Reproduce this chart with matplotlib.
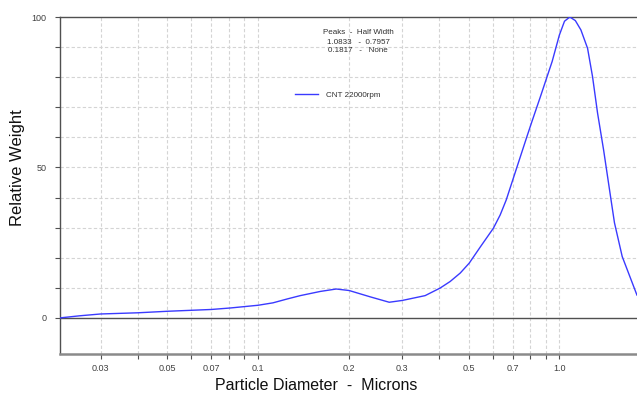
import matplotlib
matplotlib.use("Agg")
import matplotlib.pyplot as plt
from matplotlib.ticker import FixedLocator, NullFormatter, FixedFormatter

plt.rcParams['font.family'] = ['Liberation Sans', 'DejaVu Sans']

diameter = [0.022, 0.0256, 0.030, 0.040, 0.050, 0.070, 0.081, 0.100, 0.112, 0.125,
            0.138, 0.161, 0.1817, 0.2005, 0.2355, 0.2724, 0.3011, 0.3584, 0.4017,
            0.434, 0.4687, 0.5021, 0.5475, 0.6039, 0.636, 0.6662, 0.780, 0.8104,
            0.8656, 0.9105, 0.9462, 1.0, 1.04, 1.0833, 1.13, 1.1789, 1.2405, 1.2884,
            1.3388, 1.4023, 1.4787, 1.5237, 1.6164, 1.809]
weight = [0.0, 0.7, 1.3, 1.7, 2.2, 2.8, 3.3, 4.2, 5.0, 6.3,
          7.4, 8.8, 9.6, 9.1, 7.0, 5.2, 5.8, 7.4, 9.9,
          12.1, 14.9, 18.2, 23.7, 29.8, 34.2, 39.2, 60.2, 65.2,
          73.6, 80.2, 85.2, 94.0, 98.6, 100.0, 98.8, 95.7, 89.6, 80.2,
          68.1, 55.8, 40.3, 31.6, 20.4, 7.6]

x_major = [0.03, 0.05, 0.07, 0.1, 0.2, 0.3, 0.5, 0.7, 1.0]
x_major_labels = ['0.03', '0.05', '0.07', '0.1', '0.2', '0.3', '0.5', '0.7', '1.0']
x_grid = [0.03, 0.04, 0.05, 0.06, 0.07, 0.08, 0.09, 0.1, 0.2, 0.3, 0.4, 0.5,
          0.6, 0.7, 0.8, 0.9, 1.0]
y_major = [0, 50, 100]
y_minor = [10, 20, 30, 40, 60, 70, 80, 90]
y_grid = [10, 20, 30, 40, 50, 60, 70, 80, 90]

series_label = 'CNT 22000rpm'
peaks_text = ["Peaks  -  Half Width", "1.0833   -  0.7957", "0.1817   -   None"]

fig = plt.figure(figsize=(6.37, 3.94), dpi=100)
ax = fig.add_axes([60/637, 1-354/394, 577/637, (354-17)/394])
ax.set_xscale('log')
ax.set_xlim(0.022, 1.81)
ax.set_ylim(-12, 100)

gridc = '#d4d4d4'
for gx in x_grid:
    ax.axvline(gx, color=gridc, lw=0.8, ls=(0, (3, 2)), zorder=0)
for gy in y_grid:
    ax.axhline(gy, color=gridc, lw=0.8, ls=(0, (3, 2)), zorder=0)
ax.axhline(0, color='#505050', lw=1.0, zorder=1)

line, = ax.plot(diameter, weight, color='#3a3aff', lw=1.0, zorder=3, label=series_label)

ax.xaxis.set_major_locator(FixedLocator(x_major))
ax.xaxis.set_major_formatter(FixedFormatter(x_major_labels))
ax.xaxis.set_minor_locator(FixedLocator([v for v in x_grid if v not in x_major]))
ax.xaxis.set_minor_formatter(NullFormatter())
ax.yaxis.set_major_locator(FixedLocator(y_major))
ax.yaxis.set_minor_locator(FixedLocator(y_minor))

ax.tick_params(axis='both', which='both', direction='out', colors='#505050',
               labelcolor='#404040', labelsize=6.5, width=0.8)
ax.tick_params(axis='x', which='both', length=3.5, pad=4)
ax.tick_params(axis='y', which='both', length=3.5, pad=6)

ax.spines['right'].set_visible(False)
ax.spines['top'].set_color('#505050')
ax.spines['top'].set_linewidth(1.0)
ax.spines['left'].set_color('#505050')
ax.spines['left'].set_linewidth(1.0)
ax.spines['bottom'].set_color('#8a8a8a')
ax.spines['bottom'].set_linewidth(1.8)

fig.text(316/637, 1-385/394, 'Particle Diameter  -  Microns', ha='center', va='center',
         fontsize=11.5, color='#101010')
fig.text(18/637, 1-168/394, 'Relative Weight', ha='center', va='center', rotation=90,
         fontsize=12, color='#101010')

for i, yy in enumerate([33, 42, 51]):
    fig.text(358/637, 1-yy/394, peaks_text[i], ha='center', va='center',
             fontsize=5.8, color='#303030')

leg = ax.legend(loc='upper left', bbox_to_anchor=((291-60)/577, (354-87)/337), frameon=False,
                fontsize=5.8, handlelength=2.8, handletextpad=1.0, borderpad=0)
for t in leg.get_texts():
    t.set_color('#303030')

fig.savefig('out.png', dpi=100)
